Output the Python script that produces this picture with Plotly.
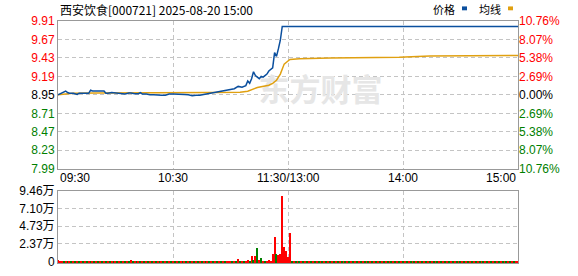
import plotly.graph_objects as go

# ---------------- data ----------------
title_text = "西安饮食[000721] 2025-08-20 15:00"
prev_close = 8.95

# minute index (0 = 09:30, 120 = 11:30/13:00, 240 = 15:00)
price_minutes = [0, 2, 4, 5, 6, 8, 10, 11, 13, 15, 16, 17, 18, 20, 22, 24, 25, 26, 28, 30,
                 32, 34, 35, 37, 38, 40, 42, 43, 44, 46, 48, 50, 52, 54, 56, 58, 60, 62, 64, 66,
                 68, 70, 72, 74, 76, 78, 80, 82, 84, 86, 88, 90, 92, 94, 96, 98, 99, 100, 101, 102,
                 103, 104, 105, 106, 107, 108, 109, 110, 111, 112, 113, 114, 115, 116, 117, 120, 121, 240]
price_values = [8.95, 8.97, 9.00, 8.98, 8.97, 8.97, 8.955, 8.97, 8.97, 8.97, 8.97, 9.01, 9.00, 9.00, 9.00, 9.00, 8.97, 8.97, 8.98, 8.975,
                8.975, 8.965, 8.96, 8.975, 8.975, 8.965, 8.965, 8.98, 8.96, 8.96, 8.95, 8.95, 8.945, 8.945, 8.945, 8.96, 8.96, 8.96, 8.955, 8.955,
                8.95, 8.94, 8.945, 8.945, 8.955, 8.965, 8.975, 8.98, 8.99, 9.00, 9.01, 9.02, 9.03, 9.06, 9.05, 9.07, 9.13, 9.10, 9.16, 9.25,
                9.20, 9.18, 9.16, 9.19, 9.18, 9.20, 9.22, 9.26, 9.28, 9.30, 9.50, 9.45, 9.55, 9.66, 9.84, 9.84, 9.84, 9.84]

avg_minutes = [0, 3, 8, 20, 40, 60, 80, 95, 99, 104, 110, 112, 114, 116, 117, 118, 120, 121, 126, 142, 178, 194, 240]
avg_values = [8.95, 8.96, 8.97, 8.975, 8.975, 8.978, 8.98, 8.985, 8.998, 9.045, 9.075, 9.10, 9.14, 9.22, 9.30, 9.35, 9.39, 9.41,
              9.42, 9.43, 9.44, 9.455, 9.462]

# volume in 万 per minute, minutes 0..240
volume_wan = [
    0.18, 0.03, 0.03, 0.04, 0.10, 0.02, 0.02, 0.03, 0.02, 0.02, 0.03, 0.02, 0.02, 0.02, 0.03, 0.02, 0.02, 0.03, 0.02, 0.02,
    0.02, 0.03, 0.02, 0.02, 0.02, 0.03, 0.02, 0.02, 0.02, 0.02, 0.03, 0.02, 0.02, 0.02, 0.02, 0.02, 0.03, 0.02, 0.12, 0.02,
    0.02, 0.02, 0.03, 0.02, 0.02, 0.02, 0.02, 0.03, 0.02, 0.02, 0.02, 0.02, 0.02, 0.03, 0.02, 0.02, 0.02, 0.02, 0.02, 0.03,
    0.02, 0.02, 0.02, 0.02, 0.03, 0.02, 0.02, 0.02, 0.02, 0.02, 0.03, 0.02, 0.02, 0.02, 0.03, 0.02, 0.02, 0.02, 0.03, 0.02,
    0.02, 0.03, 0.02, 0.02, 0.03, 0.02, 0.02, 0.03, 0.04, 0.10, 0.09, 0.05, 0.04, 0.03, 0.32, 0.10, 0.04, 0.03, 0.05, 0.12,
    0.05, 0.73, 0.12, 0.73, 1.75, 0.15, 0.43, 0.08, 0.04, 0.05, 0.12, 0.10, 0.96, 3.28, 0.96, 0.90, 1.00, 8.75, 1.88, 1.40,
    0.56, 3.80, 0.03, 0.02, 0.03, 0.02, 0.02, 0.03, 0.02, 0.02, 0.03, 0.02, 0.02, 0.03, 0.02, 0.02, 0.03, 0.02, 0.02, 0.03,
    0.02, 0.02, 0.03, 0.02, 0.02, 0.03, 0.02, 0.02, 0.03, 0.02, 0.02, 0.03, 0.02, 0.02, 0.03, 0.02, 0.02, 0.03, 0.02, 0.02,
    0.03, 0.02, 0.02, 0.03, 0.02, 0.02, 0.03, 0.02, 0.02, 0.03, 0.02, 0.02, 0.03, 0.02, 0.02, 0.03, 0.02, 0.02, 0.03, 0.02,
    0.02, 0.03, 0.02, 0.02, 0.03, 0.02, 0.02, 0.03, 0.02, 0.02, 0.03, 0.02, 0.02, 0.03, 0.02, 0.02, 0.03, 0.02, 0.02, 0.03,
    0.02, 0.02, 0.03, 0.02, 0.02, 0.03, 0.02, 0.02, 0.03, 0.02, 0.02, 0.03, 0.02, 0.02, 0.03, 0.02, 0.02, 0.03, 0.02, 0.02,
    0.03, 0.02, 0.02, 0.03, 0.02, 0.02, 0.03, 0.02, 0.02, 0.03, 0.02, 0.02, 0.03, 0.02, 0.02, 0.03, 0.02, 0.02, 0.03, 0.02,
    0.02,
]
# 1 = up (red), -1 = down (green)
volume_dir = [
    1, 1, 1, -1, 1, -1, 1, -1, 1, -1, 1, -1, 1, -1, 1, -1, 1, -1, 1, -1,
    1, -1, 1, -1, 1, -1, 1, -1, 1, -1, 1, -1, 1, -1, 1, -1, 1, -1, 1, -1,
    1, -1, 1, -1, 1, -1, 1, -1, 1, -1, 1, -1, 1, -1, 1, -1, 1, -1, 1, -1,
    1, -1, 1, -1, 1, -1, 1, -1, 1, -1, 1, -1, 1, -1, 1, -1, 1, -1, 1, -1,
    1, -1, 1, -1, 1, -1, 1, -1, 1, 1, 1, -1, 1, -1, 1, -1, 1, -1, 1, 1,
    -1, 1, -1, 1, -1, 1, -1, 1, -1, 1, 1, 1, 1, 1, -1, 1, 1, 1, 1, 1,
    1, 1, -1, 1, -1, 1, -1, 1, -1, 1, -1, 1, -1, 1, -1, 1, -1, 1, -1, 1,
    -1, 1, -1, 1, -1, 1, -1, 1, -1, 1, -1, 1, -1, 1, -1, 1, -1, 1, -1, 1,
    -1, 1, -1, 1, -1, 1, -1, 1, -1, 1, -1, 1, -1, 1, -1, 1, -1, 1, -1, 1,
    -1, 1, -1, 1, -1, 1, -1, 1, -1, 1, -1, 1, -1, 1, -1, 1, -1, 1, -1, 1,
    -1, 1, -1, 1, -1, 1, -1, 1, -1, 1, -1, 1, -1, 1, -1, 1, -1, 1, -1, 1,
    -1, 1, -1, 1, -1, 1, -1, 1, -1, 1, -1, 1, -1, 1, -1, 1, -1, 1, -1, 1,
    1,
]

price_ticks = [7.99, 8.23, 8.47, 8.71, 8.95, 9.19, 9.43, 9.67, 9.91]
pct_ticks = [-10.76, -8.07, -5.38, -2.69, 0.00, 2.69, 5.38, 8.07, 10.76]
vol_ticks = [0, 2.37, 4.73, 7.10, 9.46]
vol_tick_labels = ["0", "2.37万", "4.73万", "7.10万", "9.46万"]
time_ticks = [0, 60, 120, 180, 240]
time_labels = ["09:30", "10:30", "11:30/13:00", "14:00", "15:00"]

# ---------------- style ----------------
RED = "#ff0000"
GREEN = "#008000"
BLUE = "#0b4f9e"
GOLD = "#e0a010"
GRID = "#c4c4c4"
BORDER = "#999999"
NUMFONT = "Liberation Sans, Arial, sans-serif"
CJKFONT = "Noto Sans CJK SC, sans-serif"


def colored(v, ref, text):
    c = RED if v > ref + 1e-9 else (GREEN if v < ref - 1e-9 else "#000000")
    return f"<span style='color:{c}'>{text}</span>"


price_ticktext = [colored(v, prev_close, f"{v:.2f}") for v in price_ticks]
pct_ticktext = [colored(v, 0, f"{abs(v):.2f}%") for v in pct_ticks]

vol_minutes = list(range(len(volume_wan)))
vol_colors = [RED if d > 0 else GREEN for d in volume_dir]
vol_base = -0.22

fig = go.Figure()

# watermark (drawn first, beneath lines)
fig.add_trace(go.Scatter(x=[137], y=[8.965], mode="text", text=["东方财富"],
                         textfont=dict(family=CJKFONT, size=31, color="#e6e6e6", weight="bold"),
                         xaxis="x", yaxis="y", hoverinfo="skip", showlegend=False))

fig.add_trace(go.Scatter(x=avg_minutes, y=avg_values, mode="lines",
                         line=dict(color=GOLD, width=1.5), xaxis="x", yaxis="y",
                         hoverinfo="skip", showlegend=False))
fig.add_trace(go.Scatter(x=price_minutes, y=price_values, mode="lines",
                         line=dict(color=BLUE, width=1.5), xaxis="x", yaxis="y",
                         hoverinfo="skip", showlegend=False))
# invisible trace to activate percent axis
fig.add_trace(go.Scatter(x=[0], y=[0], mode="markers", marker=dict(opacity=0),
                         xaxis="x", yaxis="y3", hoverinfo="skip", showlegend=False))

fig.add_trace(go.Bar(x=vol_minutes, y=[v - vol_base for v in volume_wan], base=vol_base,
                     marker=dict(color=vol_colors, line=dict(width=0)), width=0.55,
                     xaxis="x2", yaxis="y2", hoverinfo="skip", showlegend=False))

W, H = 578, 276
ml, mr, mt, mb = 58, 60, 21, 6
ph = H - mt - mb
price_dom = [(H - mb - 173) / ph, 1.0]
vol_dom = [0.0, (H - mb - 196) / ph]

axis_common = dict(showline=True, linecolor=BORDER, linewidth=1, mirror=True,
                   gridcolor=GRID, griddash="4px,3px", gridwidth=1, zeroline=False, ticks="")

fig.update_layout(
    width=W, height=H,
    margin=dict(l=ml, r=mr, t=mt, b=mb, pad=0),
    paper_bgcolor="white", plot_bgcolor="white",
    bargap=0,
    xaxis=dict(domain=[0, 1], range=[0, 240], anchor="y", tickvals=time_ticks,
               showticklabels=False, showgrid=True, **axis_common),
    yaxis=dict(domain=price_dom, range=[7.99, 9.91], anchor="x", tickvals=price_ticks,
               ticktext=price_ticktext, showgrid=True,
               tickfont=dict(family=NUMFONT, size=12), **axis_common),
    yaxis3=dict(overlaying="y", side="right", anchor="x", range=[-10.76, 10.76],
                tickvals=pct_ticks, ticktext=pct_ticktext, showgrid=False, zeroline=False,
                showline=False, ticks="", tickfont=dict(family=NUMFONT, size=12)),
    xaxis2=dict(domain=[0, 1], range=[0, 240], anchor="y2", tickvals=time_ticks,
                showticklabels=False, showgrid=True, **axis_common),
    yaxis2=dict(domain=vol_dom, range=[vol_base, 9.46], anchor="x2", tickvals=vol_ticks,
                ticktext=vol_tick_labels, showgrid=True,
                tickfont=dict(family=NUMFONT + ", " + CJKFONT, size=12, color="#000000"),
                **axis_common),
    showlegend=False,
)

# time labels
xlab_y = (H - mb - 182.5) / ph
for t, lab in zip(time_ticks, time_labels):
    anchor = "left" if t == time_ticks[0] else ("right" if t == time_ticks[-1] else "center")
    fig.add_annotation(x=t, xref="x", y=xlab_y, yref="paper", text=lab, showarrow=False,
                       xanchor=anchor, yanchor="middle",
                       font=dict(family=NUMFONT, size=12, color="#000000"))

# title
fig.add_annotation(x=0, xref="paper", y=(H - mb - 9) / ph, yref="paper", text=title_text,
                   showarrow=False, xanchor="left", yanchor="middle",
                   font=dict(family=CJKFONT, size=12, color="#000000"))

# legend
def px_x(p):
    return (p - ml) / (W - ml - mr)

def px_y(p):
    return (H - mb - p) / ph

fig.add_annotation(x=px_x(431), xref="paper", y=px_y(9), yref="paper", text="价格",
                   showarrow=False, xanchor="left", yanchor="middle",
                   font=dict(family=CJKFONT, size=11, color="#000000"))
fig.add_annotation(x=px_x(477), xref="paper", y=px_y(9), yref="paper", text="均线",
                   showarrow=False, xanchor="left", yanchor="middle",
                   font=dict(family=CJKFONT, size=11, color="#000000"))
fig.add_shape(type="rect", xref="paper", yref="paper", x0=px_x(462), x1=px_x(467),
              y0=px_y(10), y1=px_y(6), fillcolor=BLUE, line=dict(width=0))
fig.add_shape(type="rect", xref="paper", yref="paper", x0=px_x(508), x1=px_x(513),
              y0=px_y(10), y1=px_y(6), fillcolor=GOLD, line=dict(width=0))

fig.write_html("out.html", config={"displayModeBar": False})
